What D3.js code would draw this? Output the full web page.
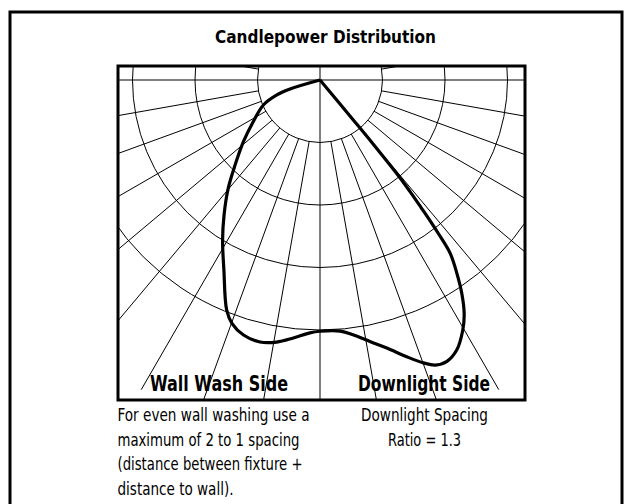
<!DOCTYPE html>
<html>
<head>
<meta charset="utf-8">
<script src="https://cdn.jsdelivr.net/npm/d3@7"></script>
<style>
  body { margin: 0; background: #fff; }
  svg { display: block; }
  text { font-family: "Liberation Sans Narrow", "DejaVu Sans Condensed", "Arial Narrow", sans-serif; fill: #000; }
</style>
</head>
<body>
<svg id="chart"></svg>
<script>
// candlepower curve
// angle from nadir in degrees (wall wash side negative), value in grid-ring units
const curveAngles = [-75, -73.3, -70.9, -66.2, -58.0, -51.2, -45.0, -40.3, -35.4, -31.3, -26.8, -22.1, -19.9, -16.7,
  -12.9, -9.4, -5.9, -2.3, 0, 4.6, 7.4, 10.8, 14.0, 17.4, 20.1, 22.0, 24.2, 26.9, 29.7, 31.7, 33.6, 35.3,
  36.9, 37.6, 38.0, 38.4, 38.9, 39.3, 39.6, 39.8, 39.8, 39.8]
const curveValues = [0, 0.50, 0.73, 0.99, 1.26, 1.57, 1.92, 2.27, 2.65, 3.00, 3.41, 3.97, 4.14, 4.26,
  4.30, 4.25, 4.15, 4.05, 4.02, 4.03, 4.11, 4.26, 4.42, 4.64, 4.82, 4.92, 4.94, 4.84, 4.61, 4.39, 4.10, 3.79,
  3.47, 3.12, 2.88, 2.60, 2.29, 2.01, 1.50, 0.98, 0.47, 0]

// polar grid
const ringValues = [1, 2, 3, 4]
const spokeAngles = [-100, -80, -70, -60, -50, -40, -30, -20, -10, 10, 20, 30, 40, 50, 60, 70, 80, 100]
const spokeStart = 1, spokeEnd = 5.72

// texts
const title = "Candlepower Distribution"
const sideLabels = ["Wall Wash Side", "Downlight Side"]
const leftNote = ["For even wall washing use a", "maximum of 2 to 1 spacing", "(distance between fixture +", "distance to wall)."]
const rightNote = ["Downlight Spacing", "Ratio = 1.3"]

const width = 630, height = 504
const box = {x0: 118, x1: 525, y0: 66, y1: 400}
const cx = 320, cy = 80

// measured text widths (the original uses a condensed face)
const sideWidths = [138, 132]
const sideX = [219, 424]
const leftWidths = [192, 182, 185, 116]
const rightWidths = [127, 73]

const svg = d3.select("#chart")
  .attr("width", width)
  .attr("height", height)

// outer frame (bottom edge runs off the page)
svg.append("rect")
  .attr("x", 10).attr("y", 12)
  .attr("width", 612).attr("height", 520)
  .attr("fill", "none")
  .attr("stroke", "#000")
  .attr("stroke-width", 3)

svg.append("text")
  .attr("x", 325.5).attr("y", 43)
  .attr("text-anchor", "middle")
  .attr("font-size", 17.5)
  .attr("font-weight", "bold")
  .attr("textLength", 221)
  .attr("lengthAdjust", "spacingAndGlyphs")
  .text(title)

svg.append("clipPath").attr("id", "boxclip")
  .append("rect")
  .attr("x", box.x0).attr("y", box.y0)
  .attr("width", box.x1 - box.x0).attr("height", box.y1 - box.y0)

const r = d3.scaleLinear().domain([0, 1]).range([0, 62.5])
const toRad = d => d * Math.PI / 180

const grid = svg.append("g")
  .attr("clip-path", "url(#boxclip)")
  .attr("fill", "none")
  .attr("stroke", "#000")
  .attr("stroke-width", 1)

grid.selectAll("circle")
  .data(ringValues)
  .enter().append("circle")
  .attr("cx", cx).attr("cy", cy)
  .attr("r", d => r(d))

grid.selectAll("line.spoke")
  .data(spokeAngles)
  .enter().append("line")
  .attr("class", "spoke")
  .attr("x1", d => cx + r(spokeStart) * Math.sin(toRad(d)))
  .attr("y1", d => cy + r(spokeStart) * Math.cos(toRad(d)))
  .attr("x2", d => cx + r(spokeEnd) * Math.sin(toRad(d)))
  .attr("y2", d => cy + r(spokeEnd) * Math.cos(toRad(d)))

// nadir and horizontal axes
grid.append("line")
  .attr("x1", cx).attr("x2", cx)
  .attr("y1", box.y0).attr("y2", box.y1)
grid.append("line")
  .attr("x1", box.x0).attr("x2", box.x1)
  .attr("y1", cy).attr("y2", cy)

// candlepower curve
const pts = curveAngles.map((a, i) => ({a: a, v: curveValues[i]}))
const radial = d3.lineRadial()
  .angle(d => Math.PI - toRad(d.a))
  .radius(d => r(d.v))
  .curve(d3.curveCatmullRom.alpha(0.5))

svg.append("path")
  .attr("transform", `translate(${cx},${cy})`)
  .attr("d", radial(pts))
  .attr("fill", "none")
  .attr("stroke", "#000")
  .attr("stroke-width", 3.2)
  .attr("stroke-linejoin", "round")

// plot box
svg.append("rect")
  .attr("x", box.x0).attr("y", box.y0)
  .attr("width", box.x1 - box.x0).attr("height", box.y1 - box.y0)
  .attr("fill", "none")
  .attr("stroke", "#000")
  .attr("stroke-width", 3)

svg.selectAll("text.side")
  .data(sideLabels)
  .enter().append("text")
  .attr("class", "side")
  .attr("x", (d, i) => sideX[i])
  .attr("y", 391)
  .attr("text-anchor", "middle")
  .attr("font-size", 21)
  .attr("font-weight", "bold")
  .attr("textLength", (d, i) => sideWidths[i])
  .attr("lengthAdjust", "spacingAndGlyphs")
  .text(d => d)

svg.selectAll("text.lnote")
  .data(leftNote)
  .enter().append("text")
  .attr("class", "lnote")
  .attr("x", box.x0 - 0.5)
  .attr("y", (d, i) => 421 + i * 24.5)
  .attr("font-size", 17)
  .attr("textLength", (d, i) => leftWidths[i])
  .attr("lengthAdjust", "spacingAndGlyphs")
  .text(d => d)

svg.selectAll("text.rnote")
  .data(rightNote)
  .enter().append("text")
  .attr("class", "rnote")
  .attr("x", 424.5)
  .attr("y", (d, i) => 421 + i * 24.5)
  .attr("text-anchor", "middle")
  .attr("font-size", 17)
  .attr("textLength", (d, i) => rightWidths[i])
  .attr("lengthAdjust", "spacingAndGlyphs")
  .text(d => d)
</script>
</body>
</html>
